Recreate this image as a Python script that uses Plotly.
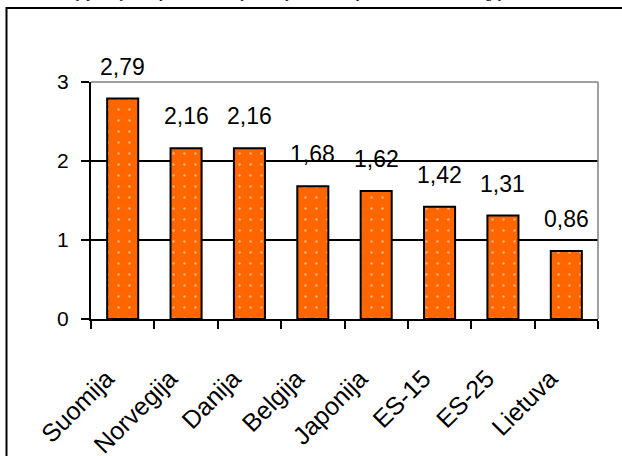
import plotly.graph_objects as go

# Chart data
categories = ["Suomija", "Norvegija", "Danija", "Belgija", "Japonija", "ES-15", "ES-25", "Lietuva"]
values = [2.79, 2.16, 2.16, 1.68, 1.62, 1.42, 1.31, 0.86]
y_ticks = [0, 1, 2, 3]
title_text = "Mokslinių tyrimų ir eksperimentinės plėtros personalas, procentais nuo užimtųjų, 2003"

W, H = 622, 456
L, R, T, B = 91, 24, 82, 137
plot_w = W - L - R
plot_h = H - T - B


def px_x(px):
    return (px - L) / plot_w


def px_y(py):
    return (H - B - py) / plot_h


def fmt(v):
    return f"{v:.2f}".replace(".", ",")


fig = go.Figure()
fig.add_trace(go.Bar(
    x=categories,
    y=values,
    marker=dict(
        color="#FF6600",
        line=dict(color="black", width=2),
        pattern=dict(shape=".", fgcolor="white", bgcolor="#FF6600", size=11, solidity=0.04),
    ),
    hoverinfo="skip",
))

# value labels above each bar
for c, v in zip(categories, values):
    fig.add_annotation(
        x=c, y=v, text=fmt(v), showarrow=False,
        yanchor="bottom", yshift=17,
        font=dict(family="Arial, Liberation Sans", size=23, color="black"),
    )

# heading line running off the top of the page
fig.add_annotation(
    xref="paper", yref="paper", x=px_x(15), y=px_y(3),
    xanchor="left", yanchor="bottom", showarrow=False, text=title_text,
    font=dict(family="Times New Roman, Liberation Serif", size=15, color="black"),
)

# outer frame around the chart
fig.add_shape(
    type="rect", xref="paper", yref="paper",
    x0=px_x(6.5), x1=px_x(W + 10), y0=px_y(H + 10), y1=px_y(8),
    line=dict(color="black", width=2), fillcolor="rgba(0,0,0,0)", layer="above",
)
# grey plot-area border on the top and right sides
fig.add_shape(type="line", xref="paper", yref="paper", x0=0, x1=1, y0=1, y1=1,
              line=dict(color="#808080", width=1.5), layer="above")
fig.add_shape(type="line", xref="paper", yref="paper", x0=1, x1=1, y0=0, y1=1,
              line=dict(color="#808080", width=1.5), layer="above")

fig.update_layout(
    width=W, height=H,
    margin=dict(l=L, r=R, t=T, b=B, autoexpand=False),
    paper_bgcolor="white", plot_bgcolor="white",
    bargap=0.51,
    showlegend=False,
    font=dict(family="Arial, Liberation Sans", color="black"),
)
fig.update_xaxes(
    type="category",
    showline=True, linecolor="black", linewidth=2,
    ticks="outside", tickson="boundaries", ticklen=8, tickwidth=2, tickcolor="black",
    tickangle=-45, tickfont=dict(size=25),
    ticklabelstandoff=33, ticklabelshift=-16,
    showgrid=False, automargin=False,
)
fig.update_yaxes(
    range=[0, 3], tickvals=y_ticks, ticktext=[str(t) for t in y_ticks],
    showline=True, linecolor="black", linewidth=2,
    ticks="outside", ticklen=8, tickwidth=2, tickcolor="black",
    tickfont=dict(size=21), ticklabelstandoff=8,
    showgrid=True, gridcolor="black", gridwidth=1.5,
    zeroline=False, automargin=False,
)

fig.write_html("out.html")
